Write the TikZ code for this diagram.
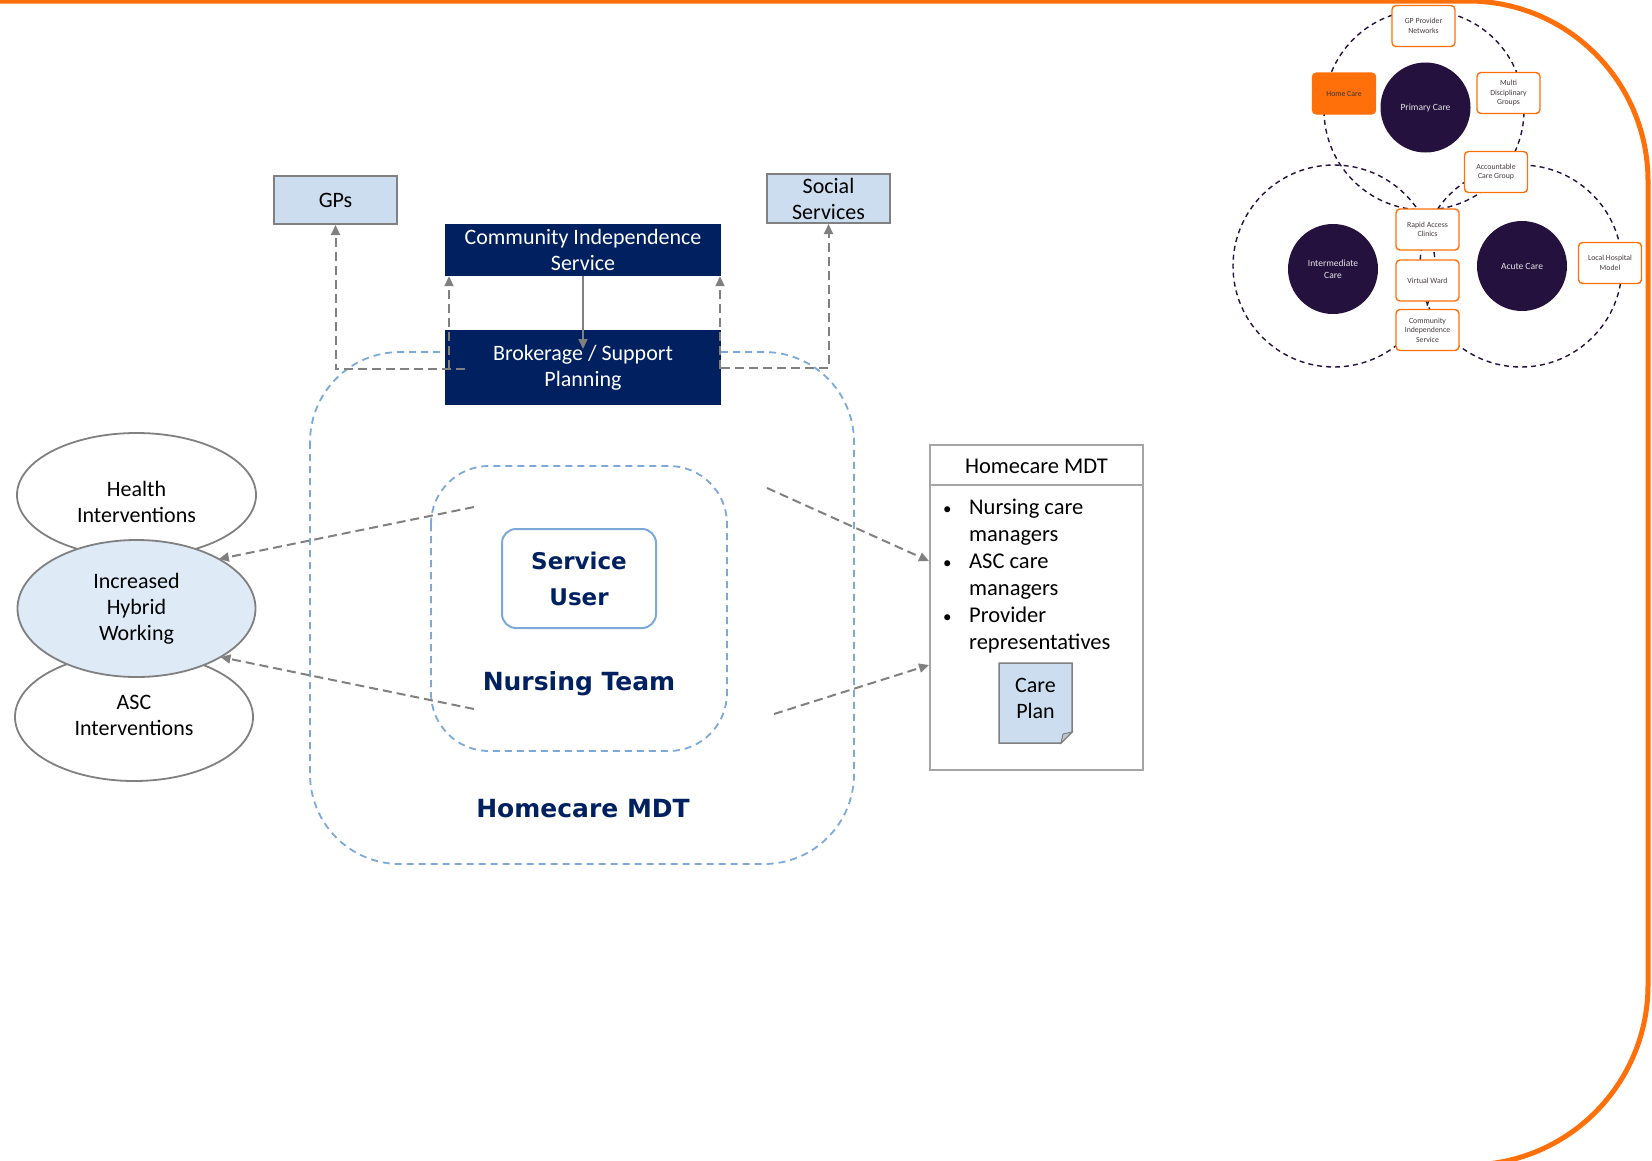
\documentclass[tikz,border=0pt]{standalone}
\usepackage{fontspec}
\setmainfont{Carlito}
\newfontfamily\headfont{DejaVu Sans}
\usetikzlibrary{arrows.meta,shapes.geometric}
\definecolor{navy}{RGB}{0,32,96}
\definecolor{lblue}{RGB}{205,221,240}
\definecolor{hblue}{RGB}{222,234,246}
\definecolor{dblue}{RGB}{125,168,218}
\definecolor{cgray}{RGB}{128,128,128}
\definecolor{bgray}{RGB}{165,165,165}
\definecolor{mpurple}{RGB}{36,17,62}
\definecolor{morange}{RGB}{255,112,10}
\definecolor{mtext}{RGB}{70,60,60}
\tikzset{
  body/.style={font=\fontsize{22}{26}\selectfont},
  lightbox/.style={draw=cgray,line width=2pt,fill=lblue,inner sep=0pt,minimum width=123pt,align=center,body},
  navybox/.style={fill=navy,text=white,inner sep=0pt,minimum width=276pt,align=center,body},
  oval/.style={ellipse,draw=cgray,line width=1.8pt,fill=white,inner sep=0pt,outer sep=0pt},
  conn/.style={draw=cgray,line width=2pt,dash pattern=on 9pt off 5pt,-{Triangle[length=10pt,width=9pt]}},
  bluedash/.style={draw=dblue,line width=1.8pt,dash pattern=on 7pt off 5pt},
  bigtitle/.style={text=navy,font=\headfont\bfseries\fontsize{25}{30}\selectfont},
  ring/.style={draw=mpurple,line width=1.4pt,dash pattern=on 5pt off 4pt},
  hub/.style={circle,fill=mpurple,text=white!90!black,inner sep=0pt,minimum size=90pt,align=center,font=\fontsize{9.5}{12}\selectfont},
  tag/.style={draw=morange,line width=1.4pt,fill=white,rounded corners=4pt,inner sep=0pt,minimum width=63pt,minimum height=41pt,align=center,text=mtext,font=\fontsize{7.8}{9.5}\selectfont},
}
\newcommand{\blt}{{\fontsize{17}{17}\selectfont\textbullet}}
\begin{document}
\begin{tikzpicture}[x=1pt,y=-1pt]
\useasboundingbox (0,0) rectangle (1652,1160);
% orange frame
\draw[morange,line width=5pt] (-10,1) -- (1468,1) arc[start angle=90,end angle=0,radius=180pt] -- (1648,985) arc[start angle=0,end angle=-90,radius=180pt] -- (-10,1165);

% dashed team outlines
\draw[bluedash,rounded corners=90pt] (310,352) rectangle (854,864);
\draw[bluedash,rounded corners=58pt] (431,466) rectangle (727,751);

% top boxes
\node[lightbox,minimum height=48pt] (gps) at (335.5,200) {GPs};
\node[lightbox,minimum height=49pt] (ss) at (828.5,198.5) {Social\\Services};
\node[navybox,minimum height=52pt] (cis) at (583,250) {Community Independence\\Service};
\node[navybox,minimum height=75pt] (bsp) at (583,367.5) {Brokerage / Support\\Planning};

% service user and titles
\node[draw=dblue,line width=2pt,rounded corners=14pt,minimum width=154pt,minimum height=99pt,inner sep=0pt,align=center,text=navy,font=\headfont\bfseries\fontsize{23}{36}\selectfont] (su) at (579,578.5) {Service\\User};
\node[bigtitle] (nt) at (579,684) {Nursing Team};
\node[bigtitle] (ht) at (583,809) {Homecare MDT};

% ellipses
\node[oval,minimum width=239pt,minimum height=124pt] (hi) at (136.5,495) {};
\node[body,align=center] (hit) at (136.5,501.5) {Health\\Interventions};
\node[oval,minimum width=238pt,minimum height=128pt] (ai) at (134,717) {};
\node[body,align=center] (ait) at (134,715) {ASC\\Interventions};
\node[oval,fill=hblue,minimum width=238pt,minimum height=137pt] (hy) at (136.5,608.5) {};
\node[body,align=center] (hyt) at (136.5,609) {Increased\\Hybrid\\Working};

% Homecare MDT panel
\node[draw=bgray,line width=2pt,minimum width=213pt,minimum height=325pt,inner sep=0pt] (hm) at (1036.5,607.5) {};
\draw[bgray,line width=2pt] ([yshift=-41pt]hm.north west) -- ([yshift=-41pt]hm.north east);
\node[font=\fontsize{22.5}{26}\selectfont] (hmt) at (1036.5,466) {Homecare MDT};
\node[anchor=west,inner sep=0pt,font=\fontsize{22.5}{27}\selectfont] (lst) at (943,577) {\begin{tabular}{@{}p{26pt}@{}l@{}}\blt & Nursing care\\ & managers\\ \blt & ASC care\\ & managers\\ \blt & Provider\\ & representatives\end{tabular}};
\draw[draw=cgray,fill=lblue,line width=1.5pt] (999,663) -- (1072,663) -- (1072,732) -- (1061,743) -- (999,743) -- cycle;
\draw[cgray,line width=1pt,fill=lblue!75!gray] (1061,743) -- (1063,734) -- (1072,732) -- cycle;
\node[body,align=center] (cp) at (1035.5,698) {Care\\Plan};

% connectors
\coordinate (gl) at (465,369);
\draw[conn] (gl) -| (gps.south);
\coordinate (sr) at (721,368);
\draw[conn] (sr) -| (ss.south);
\coordinate (lv) at (449,369);
\draw[conn] (lv) -- (lv |- cis.south);
\coordinate (rv) at (720,369);
\draw[conn] (rv) -- (rv |- cis.south);
\coordinate (bt) at (583,349);
\draw[cgray,line width=1.8pt,-{Triangle[length=10pt,width=9pt]}] (cis.south) -- (bt);
\coordinate (d1) at (474,507);
\draw[conn] (d1) -- (hy.31);
\coordinate (d2) at (474,709);
\draw[conn] (d2) -- (hy.-30);
\coordinate (d3) at (767,488);
\draw[conn] (d3) -- ([yshift=46.5pt]hm.west);
\coordinate (d4) at (774,714);
\draw[conn] (d4) -- ([yshift=-57.5pt]hm.west);

% mini diagram
\draw[ring] (1424,110) circle[radius=100pt];
\draw[ring] (1334,266) circle[radius=101pt];
\draw[ring] (1521,266) circle[radius=101pt];
\node[hub] (pc) at (1425.5,107.5) {Primary Care};
\node[hub] (ic) at (1333,269) {Intermediate\\Care};
\node[hub] (ac) at (1522,266) {Acute Care};
\node[tag] (gpn) at (1423.5,26) {GP Provider\\Networks};
\node[tag,fill=morange,text=black!80] (hc) at (1344,93.5) {Home Care};
\node[tag] (mdg) at (1508.5,93) {Multi\\Disciplinary\\Groups};
\node[tag] (acg) at (1496,172) {Accountable\\Care Group};
\node[tag] (rac) at (1427.5,229.5) {Rapid Access\\Clinics};
\node[tag] (vw) at (1427.5,280.5) {Virtual Ward};
\node[tag] (cisb) at (1427.5,330) {Community\\Independence\\Service};
\node[tag] (lhm) at (1610,263) {Local Hospital\\Model};
\end{tikzpicture}
\end{document}
